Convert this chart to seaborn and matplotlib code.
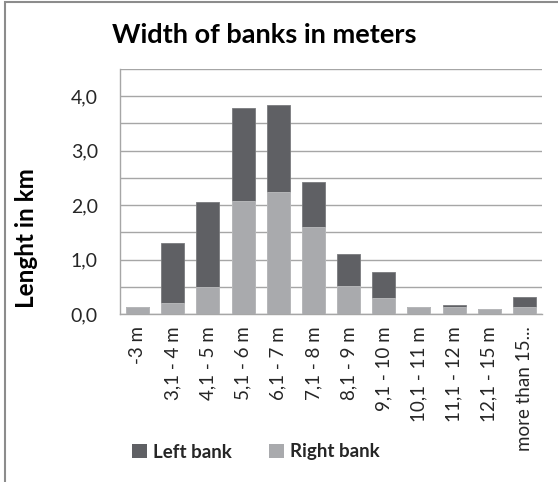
import matplotlib
matplotlib.use("Agg")
import matplotlib.pyplot as plt
from matplotlib.patches import Rectangle, Patch
from matplotlib.ticker import MultipleLocator, FixedLocator
import seaborn as sns
import pandas as pd

categories = ["-3 m", "3,1 - 4 m", "4,1 - 5 m", "5,1 - 6 m", "6,1 - 7 m", "7,1 - 8 m",
              "8,1 - 9 m", "9,1 - 10 m", "10,1 - 11 m", "11,1 - 12 m", "12,1 - 15 m",
              "more than 15..."]
right_bank = [0.13, 0.21, 0.50, 2.08, 2.25, 1.59, 0.52, 0.29, 0.12, 0.12, 0.09, 0.12]
left_bank = [0.00, 1.10, 1.56, 1.70, 1.59, 0.83, 0.59, 0.48, 0.00, 0.05, 0.00, 0.19]
yticks = [0, 1, 2, 3, 4]
ytick_labels = ["0,0", "1,0", "2,0", "3,0", "4,0"]

DARK = "#5f6064"
LIGHT = "#a9aaad"
GRID = "#a6a6a6"

df = pd.DataFrame({
    "width": categories,
    "right": right_bank,
    "left": left_bank,
})
df["total"] = df["right"] + df["left"]

sns.set_theme(style="white")
plt.rcParams["font.family"] = ["Lato", "DejaVu Sans"]

fig = plt.figure(figsize=(5.58, 4.82), dpi=100)
ax = fig.add_axes([120 / 558, 1 - 314 / 482, 422 / 558, 245 / 482])

# stacked columns: full height in dark, right bank drawn over the lower part
sns.barplot(data=df, x="width", y="total", color=DARK, saturation=1, width=0.65,
            ax=ax, zorder=3, edgecolor="#7a7b7e", linewidth=0.6)
sns.barplot(data=df, x="width", y="right", color=LIGHT, saturation=1, width=0.65,
            ax=ax, zorder=4, edgecolor="#bdbec0", linewidth=0.6)

ax.set_xlim(-0.5, len(categories) - 0.5)
ax.set_ylim(0, 4.5)
ax.yaxis.set_major_locator(FixedLocator(yticks))
ax.set_yticklabels(ytick_labels)
ax.yaxis.set_minor_locator(MultipleLocator(0.5))
ax.grid(True, which="both", axis="y", color=GRID, linewidth=1.0, zorder=0)
ax.set_axisbelow(True)

ax.spines["right"].set_visible(False)
ax.spines["top"].set_visible(False)
ax.spines["left"].set_color(GRID)
ax.spines["bottom"].set_color(GRID)
ax.spines["left"].set_linewidth(1.0)
ax.spines["bottom"].set_linewidth(1.0)

ax.tick_params(axis="y", which="both", length=0, pad=16, labelsize=14, labelcolor="#262626")
ax.tick_params(axis="x", length=0, pad=9, labelsize=13.5, labelcolor="#262626")
plt.setp(ax.get_xticklabels(), rotation=90, ha="center", va="top")

ax.set_xlabel("")
ax.set_ylabel("")
fig.text(27 / 558, 1 - 238 / 482, "Lenght in km", rotation=90, ha="center", va="center",
         fontsize=17.5, fontweight="bold", color="black")

fig.text(264 / 558, 1 - 35 / 482, "Width of banks in meters", ha="center", va="center",
         fontsize=19.5, fontweight="bold", color="black")

handles = [Patch(facecolor=DARK, edgecolor="none", label="Left bank"),
           Patch(facecolor=LIGHT, edgecolor="none", label="Right bank")]
fig.legend(handles=handles, loc="center", bbox_to_anchor=(256 / 558, 1 - 452 / 482),
           ncol=2, frameon=False, prop={"weight": "bold", "size": 13.5},
           handlelength=0.8, handleheight=0.8, handletextpad=0.3, columnspacing=2.0)

# outer chart frame
fig.patches.append(Rectangle((5 / 558, -0.05), 1.0, 1 - 2 / 482 + 0.05,
                             transform=fig.transFigure, fill=False,
                             edgecolor="#8c8c8c", linewidth=1.5))

fig.savefig("out.png", dpi=100)
